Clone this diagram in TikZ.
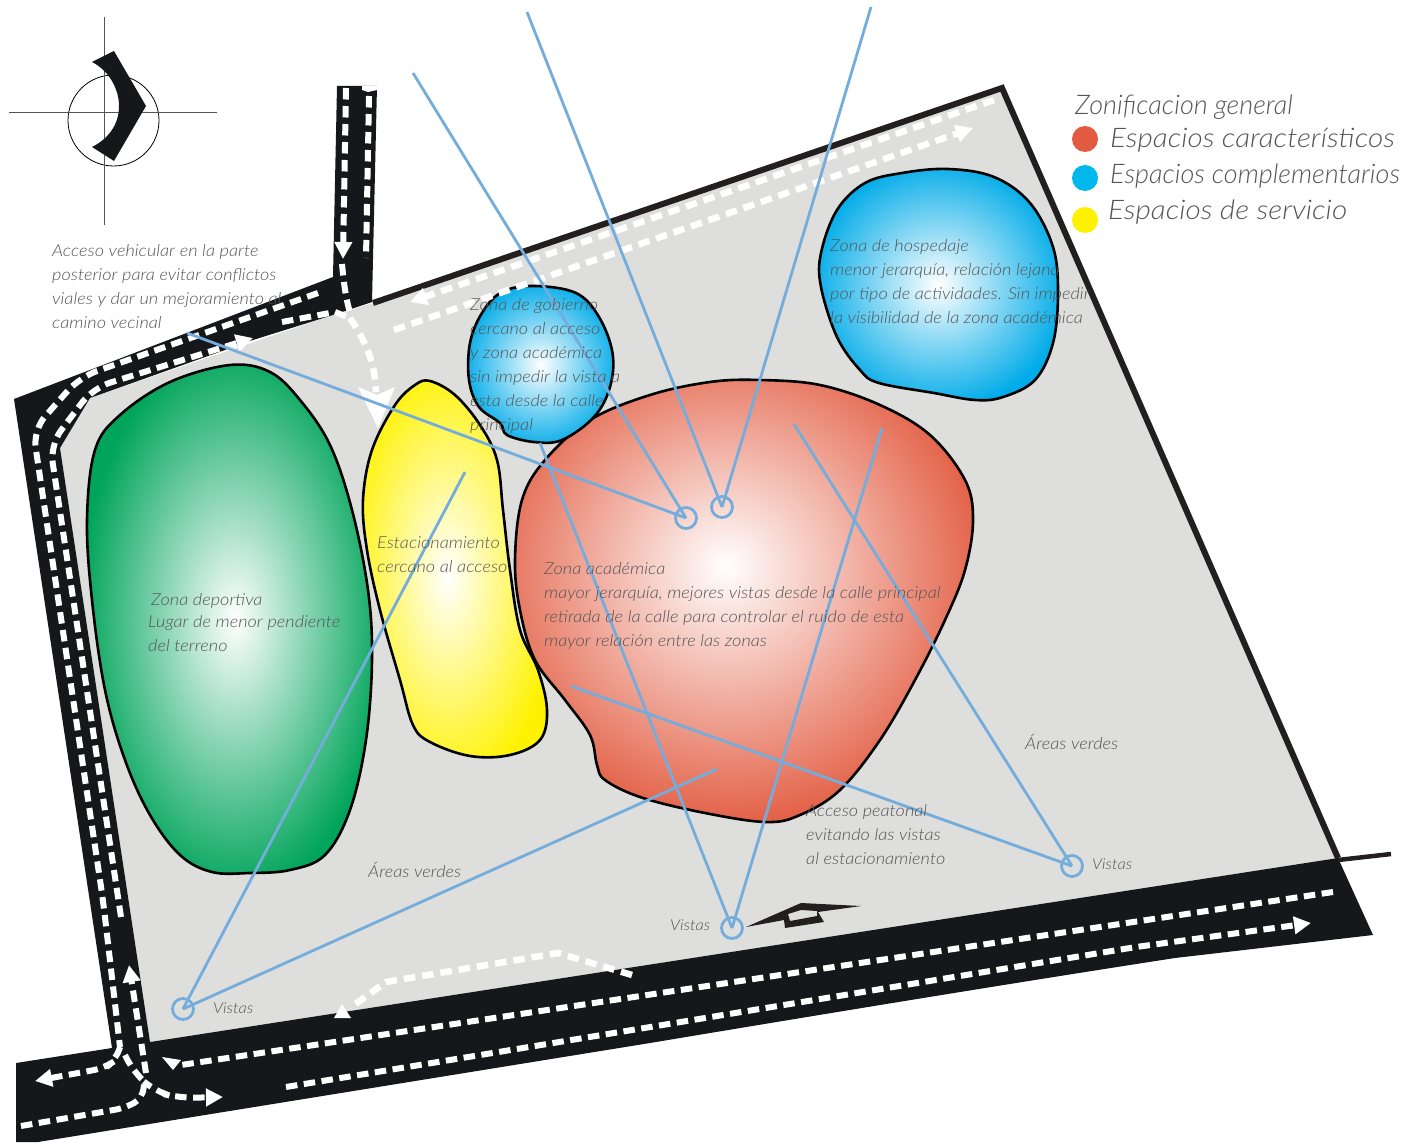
\documentclass[tikz,border=0pt]{standalone}
\usepackage{fontspec}
\usetikzlibrary{arrows.meta}
\setmainfont{Lato Light Italic}
\newfontfamily\hand[FakeStretch=1.1]{Lato Light Italic}
\newfontfamily\handplain{Lato Light Italic}
\definecolor{roadblack}{HTML}{16171A}
\definecolor{sitegray}{HTML}{DEDEDC}
\definecolor{borderdark}{HTML}{231F20}
\definecolor{viewblue}{HTML}{74ADDC}
\definecolor{txtgray}{HTML}{555555}
\definecolor{redz}{HTML}{E25B40}
\definecolor{bluez}{HTML}{00ABE8}
\definecolor{yellowz}{HTML}{FFF200}
\definecolor{greenz}{HTML}{00A45A}
\pgfdeclareradialshading{redrad}{\pgfpoint{-2bp}{4bp}}{color(0bp)=(white); color(29bp)=(redz); color(100bp)=(redz)}
\pgfdeclareradialshading{bluerad}{\pgfpoint{0bp}{0bp}}{color(0bp)=(white); color(27bp)=(bluez); color(100bp)=(bluez)}
\pgfdeclareradialshading{yellowrad}{\pgfpoint{-2bp}{-1bp}}{color(0bp)=(white); color(29bp)=(yellowz); color(100bp)=(yellowz)}
\pgfdeclareradialshading{greenrad}{\pgfpoint{1bp}{0bp}}{color(0bp)=(white); color(27bp)=(greenz); color(100bp)=(greenz)}
\newcommand{\zs}{\rule{0pt}{12pt}}
\tikzset{
  x=1pt,y=-1pt,
  blob/.style={draw=black,line width=2.6pt,line join=round},
  lane/.style={draw=white,line width=6pt,dash pattern=on 11.5pt off 6.5pt},
  yard/.style={draw=white,line width=6.5pt,dash pattern=on 11.5pt off 7pt},
  head/.style={-{Triangle[width=17pt,length=17pt]}},
  view/.style={draw=viewblue,line width=2.8pt},
  spot/.style={circle,draw=viewblue,line width=2.8pt,minimum size=21pt,inner sep=0pt},
  lbl/.style={anchor=north west,inner sep=0pt,align=left,text=txtgray,font=\hand\fontsize{16.5}{24}\selectfont},
  vista/.style={anchor=base west,inner sep=0pt,text=txtgray,font=\hand\fontsize{15}{16}\selectfont},
  legendtxt/.style={anchor=base west,inner sep=0pt,text=txtgray,font=\hand\fontsize{27}{30}\selectfont},
  legendplain/.style={anchor=base west,inner sep=0pt,text=txtgray,font=\handplain\fontsize{27}{30}\selectfont},
  legenddot/.style={circle,minimum size=26pt,inner sep=0pt},
  axis/.style={draw=txtgray,line width=0.9pt},
}
\begin{document}
\begin{tikzpicture}
\path[use as bounding box] (0,0) rectangle (1412,1142);
% site
\fill[sitegray] (373,303) -- (1002,88) -- (1338,858) -- (150,1042) -- (60,448) -- (90,398) -- (333,315) -- cycle;
% roads
\fill[roadblack] (337,86) -- (377,86) -- (372,302) -- (333,315) -- (253,340) -- (90,398) -- (60,448) -- (150,1042)
  -- (1338,858) -- (1373,935) -- (1175,958) .. controls (1000,985) and (800,1018) .. (650,1043)
  -- (38,1142) -- (16,1142) -- (16,1063) -- (112,1048) -- (14,399) -- (333,277) -- cycle;
% border
\draw[borderdark,line width=6pt,line join=miter] (373,303) -- (1002,88) -- (1338,858);
\draw[borderdark,line width=4.5pt] (1338,860) -- (1391,854);
% north sign
\node[circle,draw=black,line width=0.8pt,minimum size=91pt,inner sep=0pt] (ncircle) at (113.5,120.5) {};
\draw[axis] (9,112) -- (217,112);
\draw[axis] (104.7,17) -- (104.7,225);
\fill[roadblack] (114,51) -- (146,106) -- (114,161) -- (92,147) .. controls (108,139) and (119,125) .. (119,106)
  .. controls (119,88) and (108,70) .. (92,62) -- cycle;
% zones
\path[blob,shade,shading=greenrad] plot[smooth cycle,tension=0.6] coordinates {(230,365) (270,372) (300,400) (330,445) (352,510) (368,590) (372,660) (366,740) (350,810) (325,855) (290,870) (250,873) (212,872) (180,855) (150,815) (125,760) (105,690) (92,600) (87,520) (95,450) (120,415) (170,382)};
\path[blob,shade,shading=yellowrad] plot[smooth cycle,tension=0.6] coordinates {(430,381) (455,395) (480,425) (497,460) (503,510) (510,570) (520,630) (538,670) (547,710) (540,740) (510,755) (470,756) (430,742) (413,725) (400,680) (380,610) (367,550) (363,500) (372,450) (395,405) (415,385)};
\path[blob,shade,shading=redrad] plot[smooth cycle,tension=0.6] coordinates {(760,380) (820,385) (880,405) (930,435) (965,480) (973,520) (965,570) (945,620) (915,680) (880,740) (840,790) (800,815) (765,822) (700,812) (640,797) (605,780) (597,765) (590,735) (565,700) (535,660) (520,610) (515,560) (522,500) (545,460) (590,420) (650,395) (710,382)};
\path[blob,shade,shading=bluerad] plot[smooth cycle,tension=0.6] coordinates {(534,286) (576,293) (599,317) (612.5,353) (610,387) (594,417) (562,440) (534,442) (507,435) (500,423) (479,407) (469,380) (470,343) (482,313) (502,292)};
\path[blob,shade,shading=bluerad] plot[smooth cycle,tension=0.6] coordinates {(948,169) (994,177) (1030,203) (1053,247) (1058,293) (1053,343) (1035,380) (1003,397) (975,400) (934,393) (879,383) (860,370) (837,337) (821,287) (821,253) (837,210) (865,183) (902,173)};
% road lanes
\fill[white] (362,86) -- (377,86) -- (377,90) -- (368,92) -- (362,90) -- cycle;
\draw[lane,head] (346,88) -- (343,259);
\draw[lane] (342,264) .. controls (344,285) and (346,300) .. (351,316);
\draw[lane] (369,96) -- (366,258);
\draw[lane,rounded corners=18pt] (318,293) -- (80,377) -- (33,430) -- (103,900) -- (120,1047);
\draw[lane] (282,322) -- (335,312) -- (350,318);
\draw[lane,head,rounded corners=18pt] (121,917) -- (50,445) -- (93,388) -- (253,338);
\draw[lane,head] (146,1073) -- (129,965);
\draw[lane,head,rounded corners=12pt] (120,1047) -- (116,1060) -- (105,1068) -- (35,1081);
\draw[lane,head,rounded corners=16pt] (125,1055) -- (134,1073) -- (156,1092) -- (179,1098) -- (223,1097);
\draw[lane,rounded corners=10pt] (21,1126) -- (125,1108) -- (143,1098) -- (144,1083);
\draw[lane] (1333,892) -- (181,1065);
\fill[white] (162,1057) -- (181,1060) -- (173,1070) -- cycle;
\draw[lane,head] (286,1087) -- (1136,947) -- (1311,923);
% yard lanes
\draw[yard] (350,318) .. controls (368,345) and (375,365) .. (376,392);
\fill[white] (358,387) -- (377,395) -- (395,387) -- (378,428) -- cycle;
\draw[yard,head] (994,100) -- (410,302);
\draw[yard,head] (394,330) -- (973,128);
\draw[yard] (632,975) -- (558,953) -- (386,982) -- (350,1008);
\fill[white] (342,1004) -- (351,1018) -- (334,1018) -- cycle;
% pedestrian access
\path[fill=borderdark,even odd rule] (746,927) -- (801,903) -- (861,906) -- (818,912) -- (824,922) -- (785,928) -- (784,920) -- cycle
  (788,914) -- (801,910) -- (817,911) -- (817,916) -- (790,921) -- cycle;
% views
\node[spot] (v1) at (686,518) {};
\node[spot] (v2) at (722,507) {};
\node[spot] (v3) at (183,1009) {};
\node[spot] (v4) at (732,928) {};
\node[spot] (v5) at (1072,866) {};
\coordinate (e1) at (413,73);
\coordinate (e2) at (187,333);
\coordinate (e3) at (527,12);
\coordinate (e4) at (871,7);
\coordinate (e5) at (465,472);
\coordinate (e6) at (717,769);
\coordinate (e7) at (540,443);
\coordinate (e8) at (882,428);
\coordinate (e9) at (794,424);
\coordinate (e10) at (571,686);
\draw[view] (e1) -- (v1.center);
\draw[view] (e2) -- (v1.center);
\draw[view] (e3) -- (v2.center);
\draw[view] (e4) -- (v2.center);
\draw[view] (e5) -- (v3.center);
\draw[view] (e6) -- (v3.center);
\draw[view] (e7) -- (v4.center);
\draw[view] (e8) -- (v4.center);
\draw[view] (e9) -- (v5.center);
\draw[view] (e10) -- (v5.center);
% labels
\node[lbl] (t1) at (52,244) {\zs Acceso vehicular en la parte\\posterior para evitar conflictos\\viales y dar un mejoramiento al\\camino vecinal};
\node[lbl] (t2) at (470,298) {\zs Zona de gobierno\\cercano al acceso\\y zona académica\\sin impedir la vista a\\esta desde la calle\\principal};
\node[lbl] (t3) at (830,239) {\zs Zona de hospedaje\\menor jerarquía, relación lejana\\por tipo de actividades. Sin impedir\\la visibilidad de la zona académica};
\node[lbl] (t4) at (377,536) {\zs Estacionamiento\\cercano al acceso};
\node[lbl] (t5) at (544,562) {\zs Zona académica\\mayor jerarquía, mejores vistas desde la calle principal\\retirada de la calle para controlar el ruido de esta\\mayor relación entre las zonas};
\node[lbl] (t6) at (151,593) {\zs Zona deportiva};
\node[lbl] (t7) at (148,615) {\zs Lugar de menor pendiente\\del terreno};
\node[lbl] (t8) at (1025,734) {\zs Áreas verdes};
\node[lbl] (t9) at (368,862) {\zs Áreas verdes};
\node[lbl] (t10) at (806,804) {\zs Acceso peatonal\\evitando las vistas\\al estacionamiento};
\node[vista] (t11) at (213,1013) {Vistas};
\node[vista] (t12) at (670,930) {Vistas};
\node[vista] (t13) at (1092,869) {Vistas};
% legend
\node[legendplain] (lg0) at (1075,115) {Zonificacion general};
\node[legenddot,fill=redz] (d1) at (1085,139) {};
\node[legenddot,fill=bluez!85!cyan] (d2) at (1085,178) {};
\node[legenddot,fill=yellowz] (d3) at (1085,220) {};
\node[legendtxt] (lg1) at (1110,148) {Espacios característicos};
\node[legendplain] (lg2) at (1110,183) {Espacios complementarios};
\node[legendtxt] (lg3) at (1108,219) {Espacios de servicio};
\end{tikzpicture}
\end{document}
